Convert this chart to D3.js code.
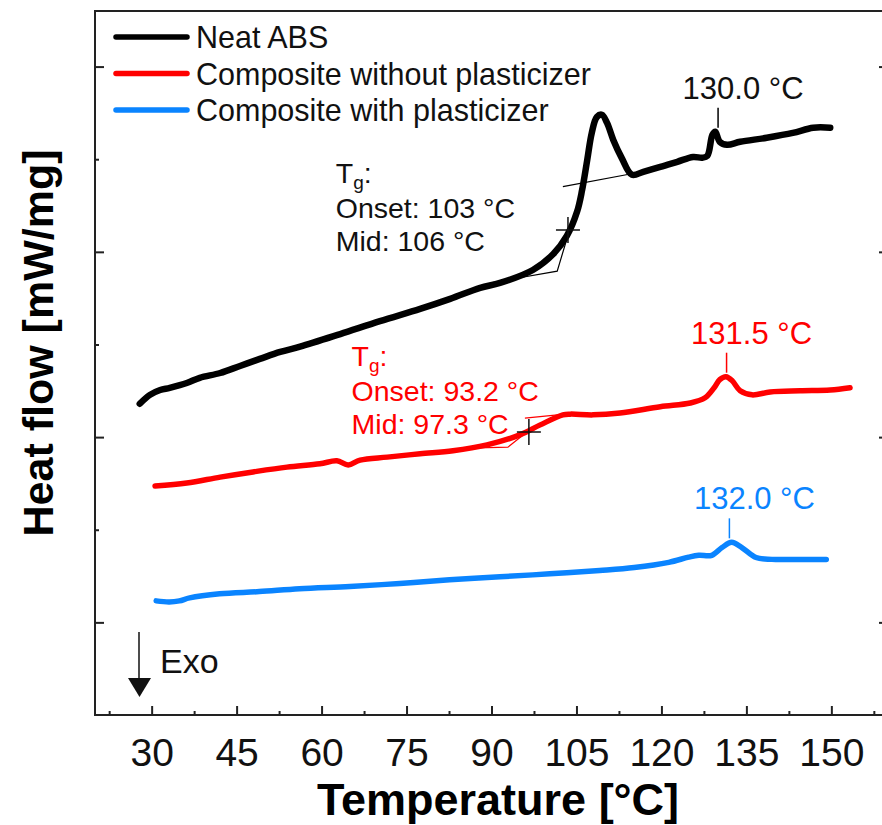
<!DOCTYPE html>
<html>
<head>
<meta charset="utf-8">
<title>DSC curves</title>
<style>
  body { margin: 0; background: #fff; }
  text { font-family: "Liberation Sans", Arial, sans-serif; }
</style>
</head>
<body>
<script src="https://d3js.org/d3.v7.min.js"></script>
<script>

// temperature [°C] and heat flow [mW/mg, shifted]
var neatT = [27.9, 29.7, 31.5, 33.2, 36.2, 38.5, 42.1, 45.6, 49.1, 52.7, 56.2, 63.3, 70.3, 77.4, 82.7, 88.0,
  91.5, 97.3, 100.9, 103.3, 105.1, 106.0, 106.9, 107.7, 108.6, 109.5, 110.4, 111.5, 113.0, 114.8, 116.8,
  119.8, 122.8, 125.6, 127.2, 128.1, 129.0, 129.5, 130.3, 131.6, 133.9, 138.6, 143.2, 146.8, 149.8];
var neatV = [0.590, 0.614, 0.627, 0.633, 0.646, 0.660, 0.673, 0.692, 0.711, 0.730, 0.744, 0.778, 0.813, 0.846, 0.873, 0.903,
  0.916, 0.951, 0.994, 1.043, 1.108, 1.167, 1.248, 1.321, 1.364, 1.370, 1.348, 1.302, 1.253, 1.208, 1.216,
  1.229, 1.243, 1.256, 1.254, 1.259, 1.316, 1.324, 1.297, 1.289, 1.297, 1.308, 1.321, 1.335, 1.335];

var noPlastT = [30.6, 36.2, 42.1, 47.9, 53.9, 59.7, 62.7, 64.7, 66.8, 71.6, 77.4, 83.2, 89.2, 95.0, 98.6, 102.6,
  103.9, 107.9, 112.7, 119.8, 125.1, 127.7, 129.3, 130.3, 131.4, 132.5, 133.9, 136.0, 139.2, 144.5, 149.8, 153.3];
var noPlastV = [0.368, 0.376, 0.392, 0.406, 0.419, 0.428, 0.436, 0.425, 0.438, 0.446, 0.455, 0.463, 0.479, 0.506, 0.533, 0.560,
  0.562, 0.560, 0.565, 0.582, 0.592, 0.606, 0.633, 0.655, 0.663, 0.652, 0.625, 0.614, 0.622, 0.625, 0.627, 0.633];

var plastT = [30.8, 33.1, 34.9, 36.7, 42.0, 49.0, 56.1, 65.0, 73.8, 82.6, 91.5, 100.3, 109.1, 115.2, 121.3, 124.8,
  126.6, 128.9, 130.7, 132.4, 134.2, 136.7, 139.5, 144.3, 149.1];
var plastV = [0.058, 0.055, 0.058, 0.066, 0.077, 0.083, 0.091, 0.097, 0.105, 0.115, 0.123, 0.131, 0.140, 0.148, 0.162, 0.176,
  0.181, 0.181, 0.202, 0.216, 0.202, 0.175, 0.170, 0.170, 0.170];

var seriesNames = ["Neat ABS", "Composite without plasticizer", "Composite with plasticizer"];
var seriesColors = ["#000000", "#ff0000", "#0a84ff"];

var xTicks = [30, 45, 60, 75, 90, 105, 120, 135, 150];
var xMinorTicks = [22.5, 37.5, 52.5, 67.5, 82.5, 97.5, 112.5, 127.5, 142.5, 157.5];
var yTicks = [0, 0.5, 1.0, 1.5];
var yMinorTicks = [0.25, 0.75, 1.25];

// peak labels
var peakT = [130.0, 131.5, 132.0];
var peakV = [1.324, 0.663, 0.216];
var peakText = ["130.0 °C", "131.5 °C", "132.0 °C"];

// Tg constructions
var neatTanA = [[89.7, 0.916], [101.6, 0.948], [103.9, 1.065]];
var neatTanB = [[102.6, 1.176], [114.5, 1.210]];
var neatMid = [103.5, 1.059];
var noPlastTanA = [[87.6, 0.471], [92.9, 0.473], [97.2, 0.525]];
var noPlastTanB = [[95.9, 0.551], [103.0, 0.562]];
var noPlastMid = [96.6, 0.514];
var neatTg = ["Onset: 103 °C", "Mid: 106 °C"];
var noPlastTg = ["Onset: 93.2 °C", "Mid: 97.3 °C"];

var W = 882, H = 825;
var plotL = 95, plotR = 888, plotT = 11, plotB = 715;

var svg = d3.select("body").append("svg")
    .attr("width", W)
    .attr("height", H);

var x = d3.scaleLinear().domain([20, 160]).range([plotL, plotR]);
var y = d3.scaleLinear().domain([-0.25, 1.65]).range([plotB, plotT]);

// frame
svg.append("rect")
    .attr("x", plotL).attr("y", plotT)
    .attr("width", plotR - plotL).attr("height", plotB - plotT)
    .attr("fill", "none").attr("stroke", "#222").attr("stroke-width", 2);

// bottom axis, ticks pointing in
var xAxis = svg.append("g").attr("transform", "translate(0," + plotB + ")")
    .call(d3.axisBottom(x).tickValues(xTicks).tickSizeInner(-9).tickSizeOuter(0).tickPadding(23));
xAxis.select(".domain").remove();
xAxis.selectAll("line").attr("stroke", "#222").attr("stroke-width", 2);
xAxis.selectAll("text").attr("font-size", 39).attr("fill", "#111")
    .attr("font-family", "'Liberation Sans', Arial, sans-serif");

var xMinor = svg.append("g").attr("transform", "translate(0," + plotB + ")")
    .call(d3.axisBottom(x).tickValues(xMinorTicks).tickSizeInner(-4).tickSizeOuter(0).tickFormat(""));
xMinor.select(".domain").remove();
xMinor.selectAll("line").attr("stroke", "#222").attr("stroke-width", 2);

// left and right axes without labels
[[d3.axisLeft, plotL], [d3.axisRight, plotR]].forEach(function(a) {
  var g = svg.append("g").attr("transform", "translate(" + a[1] + ",0)")
      .call(a[0](y).tickValues(yTicks).tickSizeInner(-9).tickSizeOuter(0).tickFormat(""));
  g.select(".domain").remove();
  g.selectAll("line").attr("stroke", "#222").attr("stroke-width", 2);
  var m = svg.append("g").attr("transform", "translate(" + a[1] + ",0)")
      .call(a[0](y).tickValues(yMinorTicks).tickSizeInner(-4).tickSizeOuter(0).tickFormat(""));
  m.select(".domain").remove();
  m.selectAll("line").attr("stroke", "#222").attr("stroke-width", 2);
});

// axis titles
svg.append("text")
    .attr("x", 498).attr("y", 815)
    .attr("text-anchor", "middle")
    .attr("font-size", 45).attr("font-weight", "bold")
    .text("Temperature [°C]");

svg.append("text")
    .attr("transform", "translate(53,343) rotate(-90)")
    .attr("text-anchor", "middle")
    .attr("font-size", 43).attr("font-weight", "bold")
    .text("Heat flow [mW/mg]");

var line = d3.line()
    .x(function(d) { return x(d[0]); })
    .y(function(d) { return y(d[1]); })
    .curve(d3.curveCatmullRom.alpha(0.5));

var thin = d3.line()
    .x(function(d) { return x(d[0]); })
    .y(function(d) { return y(d[1]); });

var series = [
  d3.zip(neatT, neatV),
  d3.zip(noPlastT, noPlastV),
  d3.zip(plastT, plastV)
];
var widths = [6.5, 5.5, 5.5];

// construction lines (under the curves)
[[neatTanA, "#000"], [neatTanB, "#000"], [noPlastTanA, "#ff0000"], [noPlastTanB, "#ff0000"]].forEach(function(c) {
  svg.append("path").attr("d", thin(c[0]))
      .attr("fill", "none").attr("stroke", c[1]).attr("stroke-width", 1.2);
});

series.forEach(function(s, i) {
  svg.append("path")
      .attr("d", line(s))
      .attr("fill", "none")
      .attr("stroke", seriesColors[i])
      .attr("stroke-width", widths[i])
      .attr("stroke-linecap", "round")
      .attr("stroke-linejoin", "round");
});

// mid-point crosses
[neatMid, noPlastMid].forEach(function(p) {
  var cx = x(p[0]), cy = y(p[1]);
  svg.append("path")
      .attr("d", "M" + (cx - 12) + "," + cy + "H" + (cx + 12) + "M" + cx + "," + (cy - 13) + "V" + (cy + 13))
      .attr("stroke", "#111").attr("stroke-width", 1.5);
});

// peak markers
peakT.forEach(function(t, i) {
  var px = x(t), py = y(peakV[i]);
  svg.append("line")
      .attr("x1", px).attr("x2", px)
      .attr("y1", py - 4).attr("y2", py - 24)
      .attr("stroke", seriesColors[i]).attr("stroke-width", 1.5);
  svg.append("text")
      .attr("x", px + 25).attr("y", py - 33)
      .attr("text-anchor", "middle")
      .attr("font-size", 31)
      .attr("fill", i === 0 ? "#111" : seriesColors[i])
      .text(peakText[i]);
});

// Tg text blocks
function tgBlock(tx, ty, col, lines) {
  var t = svg.append("text").attr("x", tx).attr("y", ty - 2).attr("font-size", 28.5).attr("fill", col);
  t.append("tspan").text("T");
  t.append("tspan").attr("font-size", 19).attr("dy", 6).text("g");
  t.append("tspan").attr("dy", -6).text(":");
  lines.forEach(function(l, k) {
    svg.append("text").attr("x", tx).attr("y", ty + 33 * (k + 1))
        .attr("font-size", 28.5).attr("fill", col).text(l);
  });
}
tgBlock(x(62.5), y(1.18), "#111", neatTg);
tgBlock(x(65.3), y(0.687), "#ff0000", noPlastTg);

// legend
seriesNames.forEach(function(n, i) {
  var ly = 37 + i * 36.5;
  svg.append("line")
      .attr("x1", 116).attr("x2", 187)
      .attr("y1", ly).attr("y2", ly)
      .attr("stroke", seriesColors[i]).attr("stroke-width", 5.5)
      .attr("stroke-linecap", "round");
  svg.append("text")
      .attr("x", 196).attr("y", ly + 11)
      .attr("font-size", 30.5).attr("fill", "#111")
      .text(n);
});

// Exo arrow
svg.append("line")
    .attr("x1", 139).attr("x2", 139).attr("y1", 632).attr("y2", 680)
    .attr("stroke", "#111").attr("stroke-width", 1.5);
svg.append("path")
    .attr("d", "M128,678L151,678L139.5,697Z")
    .attr("fill", "#111");
svg.append("text")
    .attr("x", 160).attr("y", 673)
    .attr("font-size", 34).attr("fill", "#111")
    .text("Exo");

</script>
</body>
</html>
